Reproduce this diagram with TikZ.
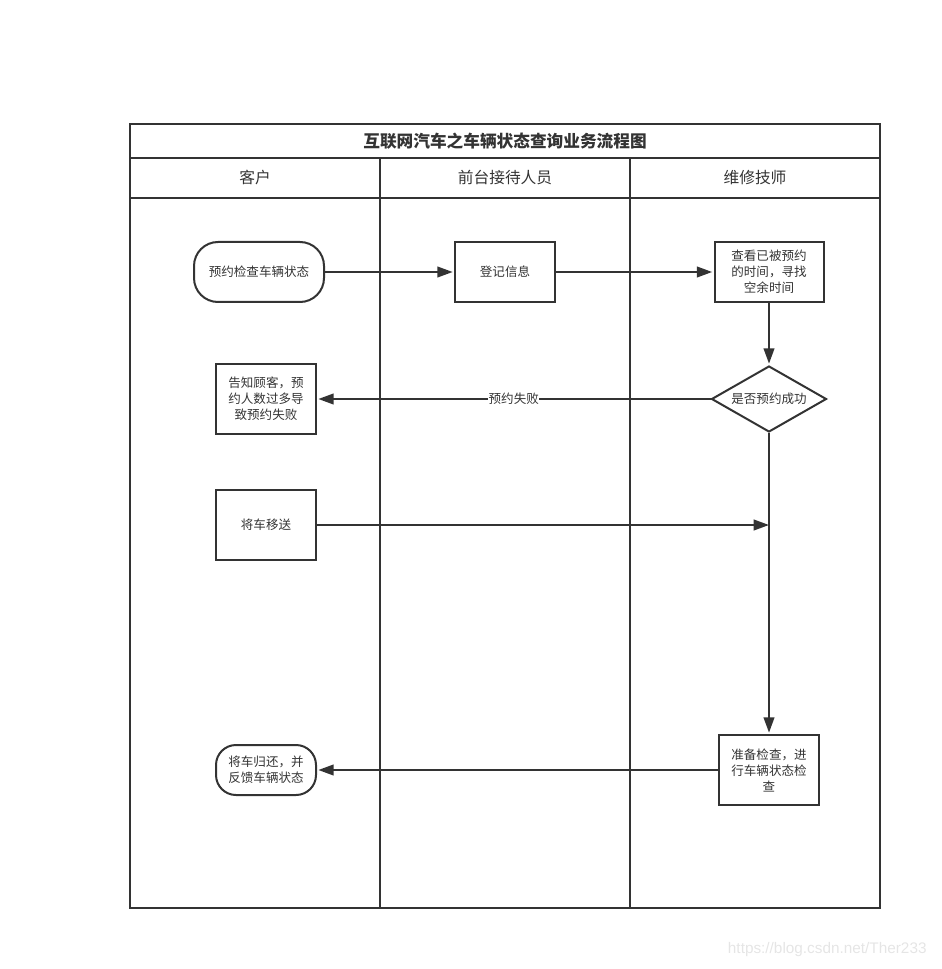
\documentclass[tikz,border=0pt]{standalone}
\usepackage{fontspec}
\newfontfamily\cjk{Noto Sans CJK SC}
\newfontfamily\wmfont{Liberation Sans}
\usetikzlibrary{arrows.meta,shapes.geometric}
\definecolor{ink}{HTML}{333333}

\begin{document}
\begin{tikzpicture}[x=0.75pt,y=-0.75pt,color=ink,line width=1.5pt,
    txt/.style={font=\cjk\fontsize{9.4}{12}\selectfont,align=center},
    box/.style={txt,draw,inner sep=1pt,minimum width=75pt,minimum height=52.5pt},
    pill/.style={box,rounded corners=18pt},
    lane/.style={font=\cjk\fontsize{11.8}{14}\selectfont},
    flow/.style={-{Triangle[length=11.5pt,width=8pt]},shorten >=1pt}]
  \useasboundingbox (0,0) rectangle (941,969);

  %%%%% pool %%%%%
  \draw (130,124) rectangle (880,908);
  \draw (130,158) -- (880,158);
  \draw (130,198) -- (880,198);
  \draw (380,158) -- (380,908);
  \draw (630,158) -- (630,908);

  \node[lane,font=\cjk\bfseries\fontsize{12.5}{14}\selectfont] (title) at (505,141) {互联网汽车之车辆状态查询业务流程图};
  \node[lane] (lanea) at (255,178) {客户};
  \node[lane] (laneb) at (505,178) {前台接待人员};
  \node[lane] (lanec) at (755,178) {维修技师};

  %%%%% steps %%%%%
  \node[pill,minimum width=97.5pt,minimum height=45pt] (ask) at (259,272) {预约检查车辆状态};
  \node[box,minimum height=45pt] (record) at (505,272) {登记信息};
  \node[box,minimum width=81.75pt,minimum height=45pt] (look) at (769,272) {查看已被预约\\的时间，寻找\\空余时间};
  \node[txt,diamond,draw,inner sep=0pt,aspect=1.74,minimum width=86.25pt,minimum height=49.5pt] (decide) at (769,399) {是否预约成功};
  \node[box] (tell) at (266,399) {告知顾客，预\\约人数过多导\\致预约失败};
  \node[box] (move) at (266,525) {将车移送};
  \node[box] (prep) at (769,770) {准备检查，进\\行车辆状态检\\查};
  \node[pill,minimum height=37.5pt,rounded corners=15pt] (back) at (266,770) {将车归还，并\\反馈车辆状态};
  \coordinate (join) at (decide |- move);

  %%%%% arrows %%%%%
  \draw[flow] (ask) -- (record);
  \draw[flow] (record) -- (look);
  \draw[flow] (look) -- (decide);
  \draw[flow] (decide) -- node[txt,fill=white,inner sep=0.5pt] (fail) {预约失败} (tell);
  \draw[flow,shorten >=0pt] (move) -- (join);
  \draw[flow] (decide) -- (prep);
  \draw[flow] (prep) -- (back);

  \node[font=\wmfont\fontsize{11.5}{13}\selectfont,color=black!10,anchor=east] (mark) at (932,950) {https://blog.csdn.net/Ther233};
\end{tikzpicture}
\end{document}
